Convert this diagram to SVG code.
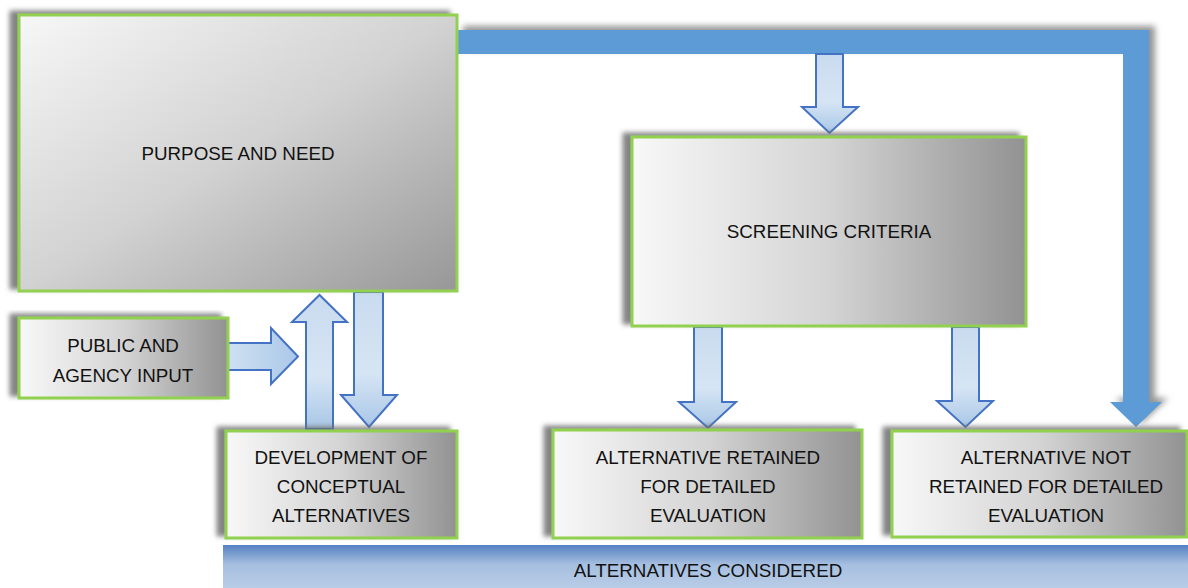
<svg xmlns="http://www.w3.org/2000/svg" width="1188" height="588" viewBox="0 0 1188 588">
<style>
.box{stroke:#92d050;stroke-width:3;filter:url(#boxShadow)}
.lbl{font-family:"Liberation Sans",Arial,sans-serif;font-size:18.8px;fill:#111;text-anchor:middle}
.arr{fill:url(#arrGrad);stroke:#4472c4;stroke-width:2;stroke-linejoin:miter}
.arrh{fill:url(#arrGradH);stroke:#4472c4;stroke-width:2;stroke-linejoin:miter}
</style>
<defs>
<filter id="boxShadow" x="-10%" y="-10%" width="120%" height="120%">
<feGaussianBlur in="SourceAlpha" stdDeviation="2.5"/>
<feOffset dx="-8" dy="-3" result="b"/>
<feFlood flood-color="#6f6f6f" flood-opacity="0.85"/>
<feComposite in2="b" operator="in"/>
<feMerge><feMergeNode/><feMergeNode in="SourceGraphic"/></feMerge>
</filter>
<filter id="blueShadow" x="-5%" y="-10%" width="110%" height="120%">
<feGaussianBlur in="SourceAlpha" stdDeviation="3"/>
<feOffset dx="6" dy="-4" result="b"/>
<feFlood flood-color="#7a7a7a" flood-opacity="0.8"/>
<feComposite in2="b" operator="in"/>
<feMerge><feMergeNode/><feMergeNode in="SourceGraphic"/></feMerge>
</filter>
<linearGradient id="gDiag" x1="0" y1="0" x2="1" y2="1">
<stop offset="0" stop-color="#f7f7f7"/>
<stop offset="0.5" stop-color="#d2d2d2"/>
<stop offset="1" stop-color="#979797"/>
</linearGradient>
<linearGradient id="gHor" x1="0" y1="0" x2="1" y2="0">
<stop offset="0" stop-color="#f8f8f8"/>
<stop offset="0.5" stop-color="#d4d4d4"/>
<stop offset="1" stop-color="#929292"/>
</linearGradient>
<linearGradient id="gBar" x1="0" y1="0" x2="0" y2="1">
<stop offset="0" stop-color="#5581c2"/>
<stop offset="0.45" stop-color="#a6bfe0"/>
<stop offset="1" stop-color="#b8cce6"/>
</linearGradient>
<linearGradient id="arrGrad" x1="0" y1="0" x2="0" y2="1">
<stop offset="0" stop-color="#c9dbef"/>
<stop offset="0.6" stop-color="#d6e5f4"/>
<stop offset="1" stop-color="#a9c7e7"/>
</linearGradient>
<linearGradient id="arrGradH" x1="0" y1="0" x2="1" y2="0">
<stop offset="0" stop-color="#cfe0f2"/>
<stop offset="1" stop-color="#aac8e8"/>
</linearGradient>
</defs>
<rect width="1188" height="588" fill="#fff"/>

<g id="connectors">
<path id="c-feedback" d="M457,30 H1149 V402 H1162 L1136,427 L1110,402 H1123 V54 H457 Z" fill="#5b9bd5" filter="url(#blueShadow)"/>
<path id="c-to-screening" class="arr" d="M816,54 H843 V107 H858 L829.5,133 L802,107 H816 Z"/>
<path id="c-dev-to-purpose" class="arr" d="M306,429 V322 H292 L319.5,295 L347,322 H333 V429 Z"/>
<path id="c-purpose-to-dev" class="arr" d="M354,292 H383 V395 H397 L369,427 L341,395 H354 Z"/>
<path id="c-public-in" class="arrh" d="M228,343 H271 V328 L298,356.5 L271,384 V370 H228 Z"/>
<path id="c-to-retained" class="arr" d="M694,327 H722 V402 H736 L708,428 L679,402 H694 Z"/>
<path id="c-to-not-retained" class="arr" d="M952,327 H979 V401 H993 L965.5,427 L937,401 H952 Z"/>
</g>

<g id="purpose">
<rect class="box" x="19" y="15" width="438" height="276" fill="url(#gDiag)"/>
<text class="lbl" x="238" y="160">PURPOSE AND NEED</text>
</g>

<g id="public">
<rect class="box" x="19" y="318" width="209" height="80" fill="url(#gHor)"/>
<text class="lbl" x="123" y="352">PUBLIC AND</text>
<text class="lbl" x="123" y="382">AGENCY INPUT</text>
</g>

<g id="development">
<rect class="box" x="226" y="431" width="231" height="107" fill="url(#gHor)"/>
<text class="lbl" x="341" y="464">DEVELOPMENT OF</text>
<text class="lbl" x="341" y="493">CONCEPTUAL</text>
<text class="lbl" x="341" y="522">ALTERNATIVES</text>
</g>

<g id="screening">
<rect class="box" x="632" y="137" width="394" height="189" fill="url(#gHor)"/>
<text class="lbl" x="829" y="238">SCREENING CRITERIA</text>
</g>

<g id="retained">
<rect class="box" x="553" y="430" width="309" height="108" fill="url(#gHor)"/>
<text class="lbl" x="708" y="464">ALTERNATIVE RETAINED</text>
<text class="lbl" x="708" y="493">FOR DETAILED</text>
<text class="lbl" x="708" y="522">EVALUATION</text>
</g>

<g id="not-retained">
<rect class="box" x="892" y="431" width="295" height="106" fill="url(#gHor)"/>
<text class="lbl" x="1046" y="464">ALTERNATIVE NOT</text>
<text class="lbl" x="1046" y="493">RETAINED FOR DETAILED</text>
<text class="lbl" x="1046" y="522">EVALUATION</text>
</g>

<g id="alternatives-considered">
<rect x="223" y="545" width="965" height="43" fill="url(#gBar)"/>
<text class="lbl" x="708" y="577">ALTERNATIVES CONSIDERED</text>
</g>
</svg>
